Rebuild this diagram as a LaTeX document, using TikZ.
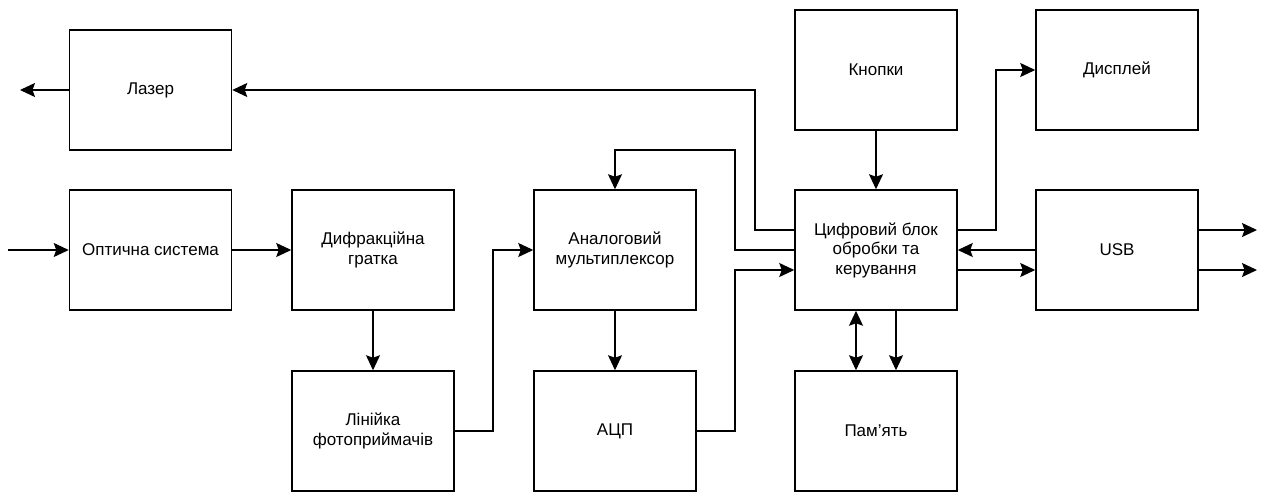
\documentclass[tikz,border=0pt]{standalone}
\usepackage{fontspec}
\setmainfont{Liberation Sans}
\usetikzlibrary{arrows.meta}
\begin{document}
\begin{tikzpicture}[x=1pt,y=-1pt,
  box/.style={draw,line width=1.5pt,minimum width=162pt,minimum height=120pt,align=center,inner sep=2pt,font=\fontsize{17}{19.5}\selectfont},
  tipstyle/.tip={Stealth[length=15pt,width=14pt,inset=2.5pt]},
  conn/.style={line width=1.3pt,-tipstyle},
  dconn/.style={line width=1.3pt,tipstyle-tipstyle}]
\useasboundingbox (0,0) rectangle (1263,493);
\node[box] (laser) at (150.5,90) {Лазер};
\node[box] (opt) at (150.5,250) {Оптична система};
\node[box] (dif) at (373,250) {Дифракційна\\гратка};
\node[box] (lin) at (373,431) {Лінійка\\фотоприймачів};
\node[box] (mux) at (615,250) {Аналоговий\\мультиплексор};
\node[box] (adc) at (615,431) {АЦП};
\node[box] (dig) at (876,250) {Цифровий блок\\обробки та\\керування};
\node[box] (btn) at (876,70) {Кнопки};
\node[box] (disp) at (1117,70) {Дисплей};
\node[box] (usb) at (1117,250) {USB};
\node[box] (mem) at (876,431) {Пам’ять};
\coordinate (lout) at (20,90);
\coordinate (in) at (8,250);
\coordinate (u1) at (1257,230);
\coordinate (u2) at (1257,270);
\draw[conn] (laser.west) -- (lout);
\draw[conn] (in) -- (opt.west);
\draw[conn] (opt) -- (dif);
\draw[conn] (dif) -- (lin);
\draw[conn] (lin.east) -- (493,431) |- (mux.west);
\draw[conn] (mux) -- (adc);
\draw[conn] (adc.east) -- (735,431) |- ([yshift=-20pt]dig.west);
\draw[conn] ([yshift=20pt]dig.west) -- (755,230) |- (laser.east);
\draw[conn] (dig.west) -- (735,250) -- (735,150) -| (mux.north);
\draw[conn] (btn) -- (dig);
\draw[conn] ([yshift=20pt]dig.east) -- (996,230) |- (disp.west);
\draw[conn] (usb.west) -- (dig.east);
\draw[conn] ([yshift=-20pt]dig.east) -- ([yshift=-20pt]usb.west);
\draw[conn] ([yshift=20pt]usb.east) -- (u1);
\draw[conn] ([yshift=-20pt]usb.east) -- (u2);
\draw[dconn] ([xshift=-20pt]dig.south) -- ([xshift=-20pt]mem.north);
\draw[conn] ([xshift=20pt]dig.south) -- ([xshift=20pt]mem.north);
\end{tikzpicture}
\end{document}
